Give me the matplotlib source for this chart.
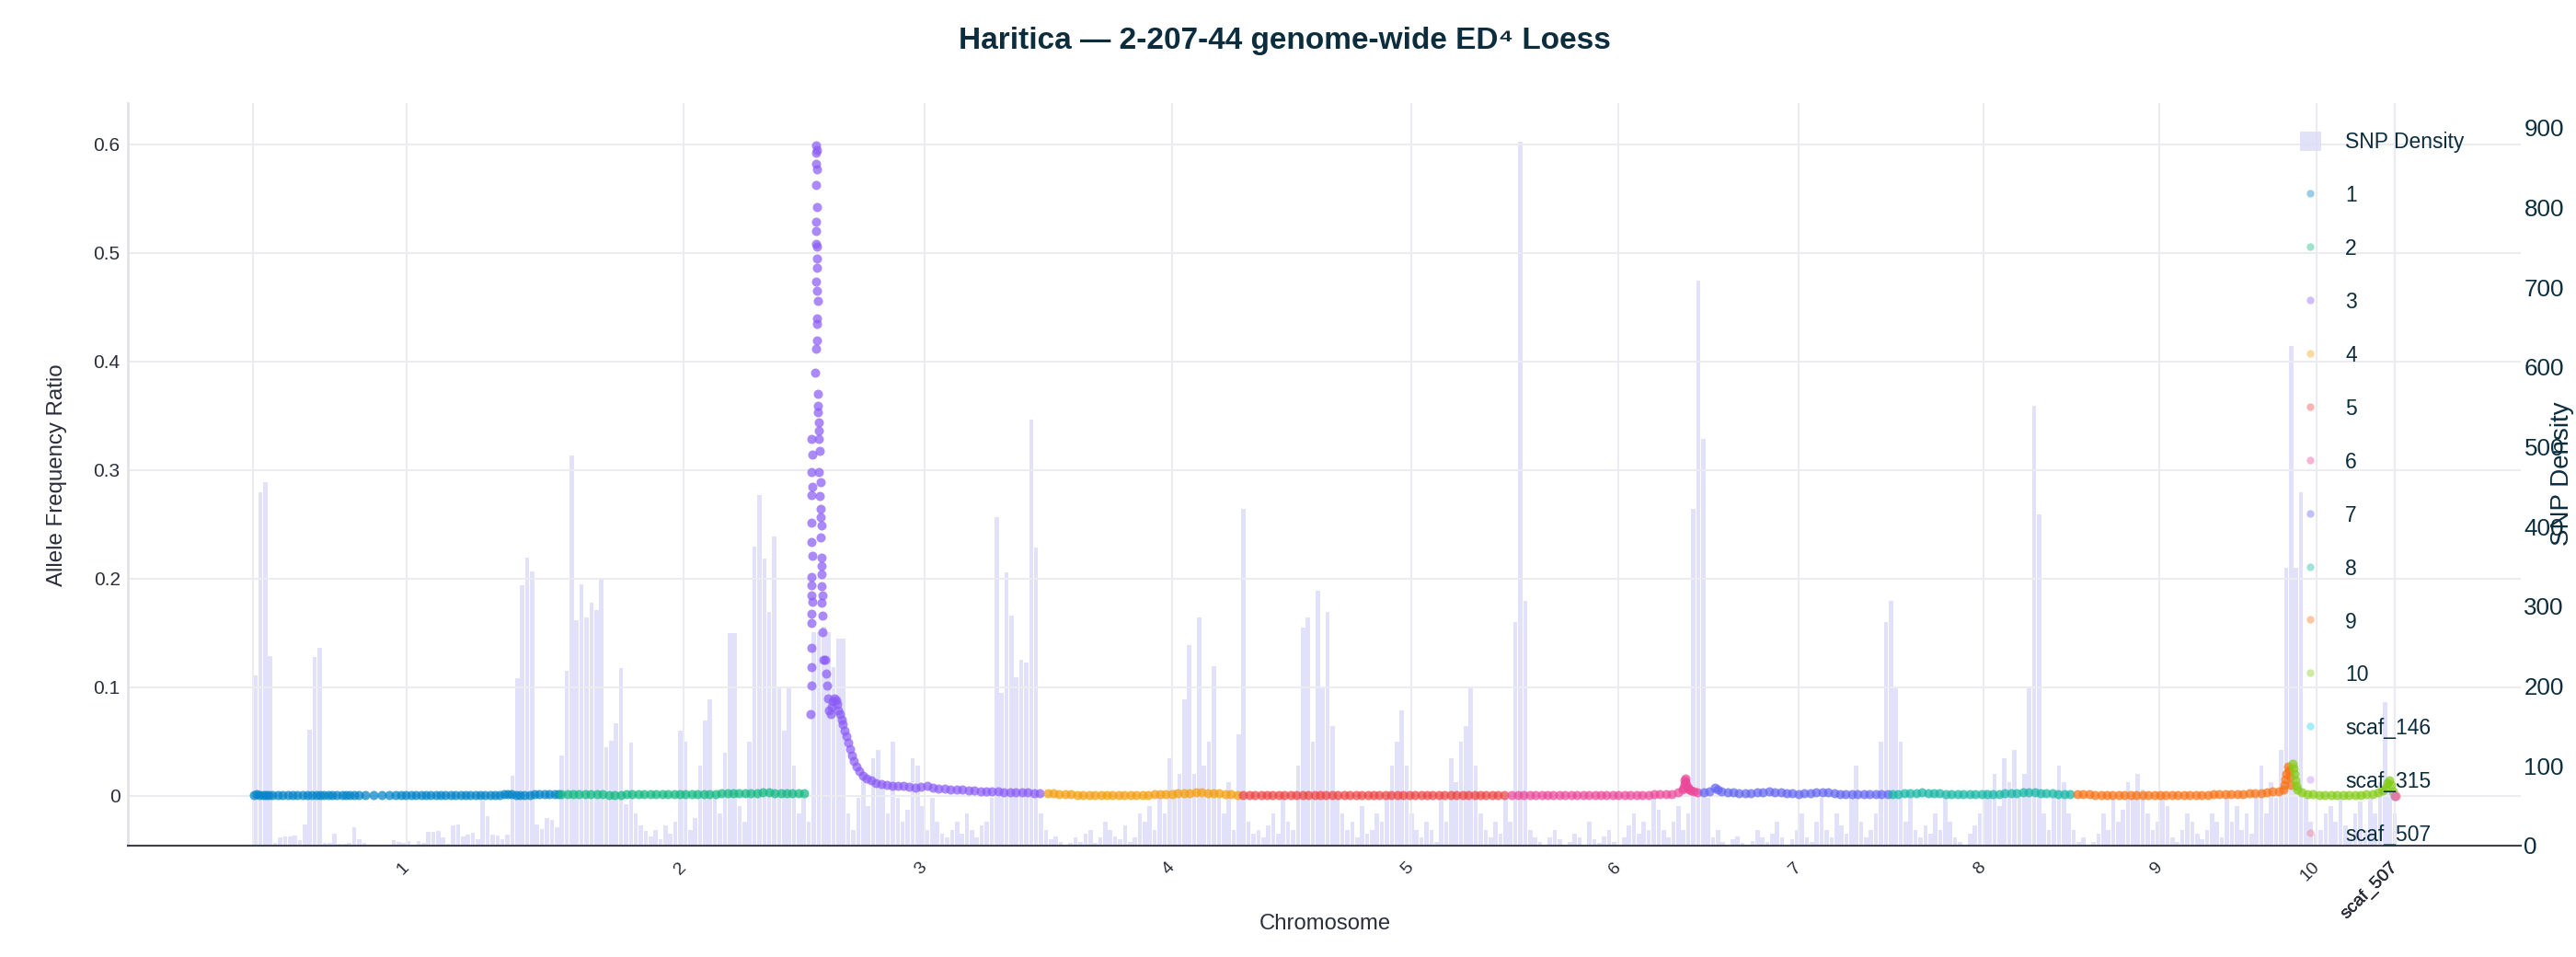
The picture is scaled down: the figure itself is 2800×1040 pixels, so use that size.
import numpy as np
import matplotlib.pyplot as plt
from matplotlib.lines import Line2D
from matplotlib.patches import Patch

plt.rcParams['font.family'] = ['Liberation Sans', 'DejaVu Sans']

# ---- data (x in Mb along the concatenated genome) ----
chrom_names = ['1', '2', '3', '4', '5', '6', '7', '8', '9', '10',
               'scaf_146', 'scaf_315', 'scaf_507']
chrom_colors = ['#0284c7', '#10b981', '#8b5cf6', '#f59e0b', '#ef4444', '#ec4899',
                '#6366f1', '#14b8a6', '#f97316', '#84cc16', '#22d3ee', '#c084fc', '#fb7185']
tick_pos = [15.55, 43.58, 67.97, 93.02, 117.23, 138.18, 156.42, 175.14, 192.92, 208.85,
            216.76, 216.76, 216.76]

# SNP density, 0.5 Mb bins from x = 0
bin_width = 0.5
snp_density = [
    214, 443, 456, 238, 3, 10, 11, 12, 13, 7, 27, 145, 236, 248, 4, 3, 15, 2, 2, 3,
    23, 8, 4, 0, 0, 1, 0, 1, 7, 5, 4, 6, 0, 6, 3, 17, 17, 18, 10, 2,
    25, 26, 12, 14, 16, 8, 57, 37, 14, 13, 8, 14, 88, 210, 327, 361, 344, 26, 21, 35,
    32, 23, 113, 219, 489, 283, 328, 286, 304, 295, 336, 124, 132, 153, 223, 52, 129, 40, 25, 18,
    12, 20, 8, 25, 15, 30, 144, 130, 20, 35, 100, 157, 184, 60, 40, 116, 266, 266, 50, 30,
    130, 375, 440, 360, 293, 388, 198, 144, 200, 100, 40, 60, 30, 268, 268, 275, 268, 224, 259, 260,
    40, 20, 60, 90, 50, 110, 120, 80, 40, 130, 60, 30, 45, 110, 100, 50, 20, 60, 30, 15,
    10, 20, 30, 15, 40, 20, 10, 25, 30, 60, 412, 191, 343, 288, 211, 233, 230, 534, 374, 40,
    20, 8, 12, 5, 0, 3, 10, 5, 15, 20, 4, 10, 30, 20, 12, 8, 25, 5, 10, 40,
    30, 50, 20, 60, 40, 110, 70, 90, 184, 252, 90, 286, 100, 130, 225, 60, 40, 80, 20, 140,
    422, 30, 15, 20, 10, 25, 40, 15, 60, 30, 20, 100, 273, 286, 130, 320, 198, 293, 150, 60,
    40, 20, 30, 10, 50, 15, 20, 40, 30, 60, 100, 130, 170, 100, 40, 20, 10, 30, 20, 5,
    60, 30, 110, 80, 130, 150, 198, 100, 40, 20, 10, 30, 15, 60, 30, 280, 882, 307, 20, 10,
    5, 0, 10, 20, 8, 0, 5, 15, 10, 0, 30, 8, 3, 12, 20, 5, 0, 10, 25, 40,
    15, 30, 20, 60, 45, 20, 10, 30, 50, 20, 40, 422, 708, 510, 60, 10, 20, 5, 0, 8,
    12, 4, 0, 6, 20, 10, 5, 15, 30, 10, 0, 8, 20, 40, 10, 5, 30, 60, 20, 10,
    40, 25, 15, 60, 100, 30, 10, 20, 40, 130, 280, 307, 198, 130, 30, 60, 20, 10, 25, 15,
    40, 20, 60, 30, 10, 5, 0, 15, 25, 40, 70, 60, 90, 50, 110, 80, 120, 60, 90, 198,
    552, 415, 40, 20, 60, 100, 80, 40, 20, 5, 10, 0, 5, 15, 40, 20, 60, 30, 45, 80,
    60, 90, 70, 40, 20, 30, 60, 50, 10, 5, 20, 40, 30, 15, 8, 20, 40, 30, 10, 60,
    30, 50, 20, 40, 15, 60, 100, 40, 80, 60, 120, 348, 626, 348, 443, 60, 30, 15, 20, 40,
    50, 30, 60, 25, 10, 40, 55, 20, 60, 40, 80, 180, 70, 40,
]

# loess ED4 values; flat stretches given in units of 1e-4
ch1_pos = [0.1, 0.4, 0.7, 1.0, 1.3, 1.6, 2.0, 2.5, 3.0, 3.5,
           4.0, 4.5, 5.0, 5.5, 6.0, 6.4, 6.8, 7.2, 7.6, 8.0,
           8.5, 9.0, 9.4, 9.8, 10.2, 10.7, 11.4, 12.2, 13.0, 13.8,
           14.4, 15.0, 15.5, 16.0, 16.5, 17.0, 17.5, 18.0, 18.5, 19.0,
           19.5, 20.0, 20.5, 21.0, 21.5, 22.0, 22.5, 23.0, 23.5, 24.0,
           24.5, 25.0, 25.4, 25.8, 26.2, 26.6, 27.0, 27.5, 28.0, 28.5,
           29.0, 29.5, 30.0, 30.5, 30.9]
ch1_val = [12, 14, 12, 10, 10, 9, 8, 8, 9, 10,
           10, 9, 8, 8, 10, 12, 11, 10, 9, 8,
           8, 8, 9, 10, 9, 8, 7, 8, 8, 9,
           10, 10, 9, 9, 10, 11, 12, 12, 11, 10,
           10, 9, 9, 10, 10, 11, 11, 10, 10, 9,
           10, 12, 14, 14, 13, 12, 12, 11, 12, 13,
           14, 14, 15, 16, 17]

ch2_pos = [31.2, 31.8, 32.4, 33.0, 33.6, 34.2, 34.8, 35.4, 36.0, 36.6,
           37.2, 37.8, 38.4, 39.0, 39.6, 40.2, 40.8, 41.4, 42.0, 42.6,
           43.2, 43.8, 44.4, 45.0, 45.6, 46.2, 46.8, 47.4, 48.0, 48.6,
           49.2, 49.8, 50.4, 51.0, 51.6, 52.2, 52.8, 53.4, 54.0, 54.6,
           55.2, 55.8]
ch2_val = [18, 17, 16, 15, 14, 14, 13, 13, 12, 12,
           12, 13, 13, 14, 14, 15, 15, 15, 16, 16,
           17, 17, 18, 18, 19, 20, 20, 21, 22, 23,
           24, 25, 27, 28, 30, 30, 29, 28, 27, 25,
           24, 22]

# chromosome 3: the peak and its decay (real values)
ch3_peak_pos = [56.55, 56.6, 56.5, 56.6, 56.55, 56.5, 56.55, 56.6, 56.55, 56.5,
                56.55, 56.6, 56.5, 56.55, 56.5, 56.55, 56.5, 56.45,
                57.0, 57.05, 56.95, 57.0, 57.05, 57.0, 57.1, 56.95, 57.0, 56.95,
                57.1, 57.05, 57.1, 57.0, 57.1, 57.15, 57.1, 57.05, 57.1, 57.0,
                56.85, 57.2, 57.15,
                57.2, 57.25, 57.3, 57.3, 57.35, 57.3, 57.4, 57.35, 57.45, 57.4,
                57.5, 57.45, 57.5, 57.55, 57.5, 57.55, 57.6, 57.55, 57.6, 57.65, 57.7,
                57.9, 58.0, 58.1, 58.2, 58.3, 58.45, 58.6, 58.7, 58.85, 59.0,
                59.1, 59.25, 59.4, 59.55, 59.7, 59.9, 60.05, 60.25, 60.45, 60.6,
                60.8, 61.1, 61.4, 61.75, 62.1, 62.6, 63.0, 63.6, 64.15, 64.7,
                65.3, 65.8]
ch3_peak_val = [0.329, 0.314, 0.298, 0.285, 0.277, 0.252, 0.234, 0.221, 0.202, 0.194,
                0.185, 0.179, 0.168, 0.159, 0.136, 0.119, 0.102, 0.075,
                0.599, 0.595, 0.592, 0.582, 0.577, 0.563, 0.542, 0.529, 0.520, 0.508,
                0.506, 0.495, 0.486, 0.474, 0.465, 0.456, 0.440, 0.435, 0.419, 0.412,
                0.390, 0.370, 0.359,
                0.353, 0.344, 0.336, 0.329, 0.318, 0.298, 0.289, 0.276, 0.264, 0.257,
                0.249, 0.238, 0.219, 0.212, 0.204, 0.193, 0.185, 0.178, 0.166, 0.151, 0.125,
                0.125, 0.113, 0.102, 0.090, 0.079, 0.075, 0.082, 0.087, 0.090, 0.088,
                0.085, 0.079, 0.075, 0.070, 0.066, 0.060, 0.055, 0.049, 0.043, 0.037,
                0.032, 0.027, 0.023, 0.019, 0.016, 0.014, 0.012, 0.011, 0.010, 0.0095,
                0.009, 0.009]
ch3_pos = [66.4, 67.0, 67.6, 68.2, 68.8, 69.4, 70.0, 70.6, 71.2, 71.8,
           72.4, 73.0, 73.6, 74.2, 74.8, 75.4, 76.0, 76.6, 77.2, 77.8,
           78.4, 79.0, 79.6]
ch3_val = [85, 80, 85, 90, 80, 70, 65, 60, 55, 55,
           50, 50, 45, 45, 40, 40, 35, 35, 30, 30,
           30, 28, 28]

ch4_pos = [80.4, 81.0, 81.6, 82.2, 82.8, 83.4, 84.0, 84.6, 85.2, 85.8,
           86.4, 87.0, 87.6, 88.2, 88.8, 89.4, 90.0, 90.6, 91.2, 91.8,
           92.4, 93.0, 93.6, 94.2, 94.8, 95.4, 96.0, 96.6, 97.2, 97.8,
           98.4, 99.0, 99.6]
ch4_val = [25, 22, 20, 18, 15, 12, 10, 10, 8, 8,
           8, 7, 7, 8, 9, 10, 10, 12, 14, 16,
           18, 20, 22, 25, 28, 30, 30, 28, 25, 22,
           18, 15, 12]

ch5_pos = [100.2, 100.8, 101.4, 102.0, 102.6, 103.2, 103.8, 104.4, 105.0, 105.6,
           106.2, 106.8, 107.4, 108.0, 108.6, 109.2, 109.8, 110.4, 111.0, 111.6,
           112.2, 112.8, 113.4, 114.0, 114.6, 115.2, 115.8, 116.4, 117.0, 117.6,
           118.2, 118.8, 119.4, 120.0, 120.6, 121.2, 121.8, 122.4, 123.0, 123.6,
           124.2, 124.8, 125.4, 126.0, 126.6]
ch5_val = [10, 9, 8, 8, 7, 6, 6, 5, 5, 5,
           5, 6, 6, 7, 7, 8, 8, 8, 7, 7,
           6, 6, 6, 5, 5, 5, 5, 6, 6, 6,
           7, 7, 8, 8, 8, 7, 7, 6, 6, 5,
           5, 5, 5, 6, 6]

ch6_pos = [127.4, 128.0, 128.6, 129.2, 129.8, 130.4, 131.0, 131.6, 132.2, 132.8,
           133.4, 134.0, 134.6, 135.2, 135.8, 136.4, 137.0, 137.6, 138.2, 138.8,
           139.4, 140.0, 140.6, 141.2, 141.8, 142.4, 143.0, 143.6, 144.2,
           144.7, 144.8, 144.9, 144.9, 145.0, 145.0, 145.1, 145.2, 145.3, 145.5,
           145.8, 146.2]
ch6_val = [6, 6, 5, 5, 5, 5, 6, 6, 6, 7,
           7, 7, 8, 8, 8, 9, 9, 10, 10, 10,
           11, 11, 12, 12, 13, 14, 16, 20, 30,
           60, 80, 110, 140, 160, 130, 100, 80, 60, 50,
           40, 30]

ch7_pos = [146.8, 147.4, 147.9, 148.2, 148.6, 149.2, 149.8, 150.4, 151.0, 151.6,
           152.2, 152.8, 153.4, 154.0, 154.6, 155.2, 155.8, 156.4, 157.0, 157.6,
           158.2, 158.8, 159.4, 160.0, 160.6, 161.2, 161.8, 162.4, 163.0, 163.6,
           164.2, 164.8, 165.4]
ch7_val = [30, 40, 80, 60, 45, 35, 30, 28, 25, 28,
           32, 36, 40, 36, 30, 25, 22, 20, 22, 25,
           30, 35, 30, 25, 20, 18, 16, 15, 14, 14,
           15, 16, 18]

ch8_pos = [165.9, 166.5, 167.1, 167.7, 168.3, 168.9, 169.5, 170.1, 170.7, 171.3,
           171.9, 172.5, 173.1, 173.7, 174.3, 174.9, 175.5, 176.1, 176.7, 177.3,
           177.9, 178.5, 179.1, 179.7, 180.3, 180.9, 181.5, 182.1, 182.7, 183.3,
           183.9]
ch8_val = [18, 20, 22, 25, 28, 30, 28, 25, 22, 20,
           18, 16, 15, 14, 14, 15, 16, 18, 20, 22,
           25, 28, 30, 32, 30, 28, 25, 22, 20, 18,
           16]

ch9_pos = [184.6, 185.2, 185.8, 186.4, 187.0, 187.6, 188.2, 188.8, 189.4, 190.0,
           190.6, 191.2, 191.8, 192.4, 193.0, 193.6, 194.2, 194.8, 195.4, 196.0,
           196.6, 197.2, 197.8, 198.4, 199.0, 199.6, 200.2, 200.8, 201.4, 202.0,
           202.6, 203.2, 203.8, 204.4, 205.0,
           205.5, 205.6, 205.7, 205.8, 205.9, 206.0, 206.1, 206.2]
ch9_val = [15, 14, 13, 12, 12, 11, 10, 10, 10, 10,
           10, 11, 12, 12, 12, 11, 10, 10, 10, 10,
           10, 11, 12, 13, 14, 15, 16, 18, 20, 22,
           25, 28, 32, 38, 45,
           60, 100, 150, 200, 270, 240, 180, 100]

ch10_pos = [206.45, 206.55, 206.6, 206.7, 206.8, 206.9,
            207.3, 207.9, 208.5, 209.1, 209.7, 210.3, 210.9, 211.5, 212.1, 212.7,
            213.3, 213.9, 214.5, 215.1,
            215.5, 215.8, 216.0, 216.2, 216.4, 216.6]
ch10_val = [300, 250, 200, 140, 90, 60,
            30, 20, 15, 12, 10, 10, 10, 10, 10, 10,
            12, 15, 20, 30,
            50, 80, 120, 140, 100, 40]

scaf146_pos = [216.7]
scaf146_val = [0]
scaf315_pos = [216.75]
scaf315_val = [0]
scaf507_pos = [216.8]
scaf507_val = [0]

# ---- assemble per chromosome ----
dots = [
    (ch1_pos, np.array(ch1_val) / 1e4),
    (ch2_pos, np.array(ch2_val) / 1e4),
    (ch3_peak_pos + ch3_pos, np.concatenate([ch3_peak_val, np.array(ch3_val) / 1e4])),
    (ch4_pos, np.array(ch4_val) / 1e4),
    (ch5_pos, np.array(ch5_val) / 1e4),
    (ch6_pos, np.array(ch6_val) / 1e4),
    (ch7_pos, np.array(ch7_val) / 1e4),
    (ch8_pos, np.array(ch8_val) / 1e4),
    (ch9_pos, np.array(ch9_val) / 1e4),
    (ch10_pos, np.array(ch10_val) / 1e4),
    (scaf146_pos, np.array(scaf146_val) / 1e4),
    (scaf315_pos, np.array(scaf315_val) / 1e4),
    (scaf507_pos, np.array(scaf507_val) / 1e4),
]

W, H = 2800, 1040
text_dark = '#2a2e3a'
navy = '#0c2d3e'
grid_col = '#ebebf0'

fig = plt.figure(figsize=(W / 100, H / 100), dpi=100)
ax = fig.add_axes([139 / W, 1 - 919 / H, 2601 / W, 807 / H])
ax2 = ax.twinx()
ax.set_zorder(ax2.get_zorder() + 1)
ax.patch.set_visible(False)

# SNP density bars on the right axis
bin_start = np.arange(len(snp_density)) * bin_width
ax2.bar(bin_start + bin_width / 2, snp_density, width=bin_width * 0.86,
        color='#dcdcf8', alpha=0.85, linewidth=0)
ax2.set_ylim(0, 931)
ax2.set_yticks(range(0, 1000, 100))
ax2.tick_params(axis='y', length=0, pad=2.5, labelsize=18.7, labelcolor=navy)
for s in ax2.spines.values():
    s.set_visible(False)

# loess dots
for (pos, val), col in zip(dots, chrom_colors):
    ax.scatter(pos, val, s=52, color=col, alpha=0.72, linewidths=0, zorder=3)

ax.set_xlim(-12.66, 229.5)
ax.set_ylim(-0.0458, 0.638)
ax.set_yticks([0, 0.1, 0.2, 0.3, 0.4, 0.5, 0.6])
ax.set_yticklabels(['0', '0.1', '0.2', '0.3', '0.4', '0.5', '0.6'])
ax.set_xticks(tick_pos)
ax.set_xticklabels(chrom_names)
ax.grid(True, color=grid_col, lw=1.5)
ax.set_axisbelow(True)
ax.axvline(0, color=grid_col, lw=1.5, zorder=0.5)
ax.tick_params(axis='y', length=0, pad=6, labelsize=15, labelcolor=text_dark)
ax.tick_params(axis='x', length=0, pad=15, labelsize=14, labelcolor=text_dark)
plt.setp(ax.get_xticklabels(), rotation=45, ha='right', va='center', rotation_mode='anchor')

for side in ['top', 'right']:
    ax.spines[side].set_visible(False)
ax.spines['left'].set_color('#e2e2e8')
ax.spines['left'].set_linewidth(2)
ax.spines['bottom'].set_color('#3c3f4c')
ax.spines['bottom'].set_linewidth(1.5)

# legend
handles = [Patch(facecolor='#dcdcf8', alpha=0.85, edgecolor='none')]
for col in chrom_colors:
    handles.append(Line2D([], [], marker='o', linestyle='', markersize=6,
                          markerfacecolor=col, markeredgewidth=0, alpha=0.4))
ax.legend(handles, ['SNP Density'] + chrom_names, loc='upper left',
          bbox_to_anchor=(2500 / W, 1 - 143 / H), bbox_transform=fig.transFigure,
          frameon=False, fontsize=16.5, labelcolor=navy, labelspacing=1.52,
          handlelength=1.0, handleheight=1.0, handletextpad=1.15,
          borderpad=0, borderaxespad=0)

fig.text(1396 / W, 1 - 45 / H, 'Haritica — 2-207-44 genome-wide ED⁴ Loess',
         ha='center', va='center', fontsize=24, fontweight='bold', color=navy)
fig.text(62 / W, 1 - 516 / H, 'Allele Frequency Ratio', rotation=90,
         ha='center', va='center', fontsize=17.3, color=text_dark)
fig.text(1440 / W, 1 - 1004 / H, 'Chromosome', ha='center', va='center',
         fontsize=17.2, color=text_dark)
fig.text(2785 / W, 1 - 515 / H, 'SNP Density', rotation=90, ha='center', va='center',
         fontsize=20, color=navy)

fig.savefig('out.png', dpi=100)
